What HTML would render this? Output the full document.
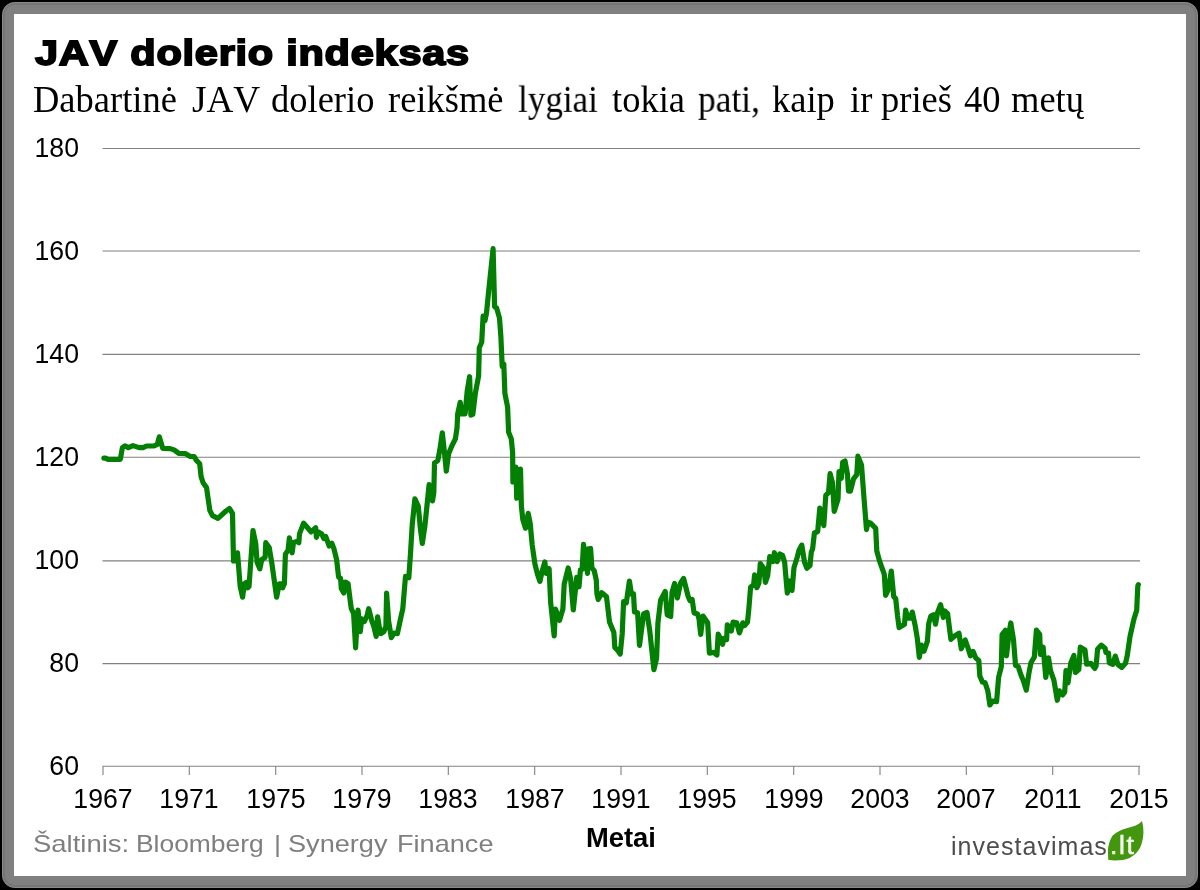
<!DOCTYPE html>
<html>
<head>
<meta charset="utf-8">
<title>JAV dolerio indeksas</title>
<style>
html,body{margin:0;padding:0;background:#000;}
body{width:1200px;height:890px;overflow:hidden;position:relative;font-family:"Liberation Sans",sans-serif;}
#frame{position:absolute;left:2px;top:2px;width:1196px;height:886px;background:#808080;border-radius:12.5px;box-sizing:border-box;border:1px solid #8c8c8c;box-shadow:inset 0 0 0 2px #767676;}
#card{position:absolute;left:14px;top:14px;width:1172px;height:862px;background:#fff;}
.t{position:absolute;white-space:nowrap;line-height:1;transform-origin:0 0;will-change:transform;}
#title{left:34.5px;top:34px;font-weight:bold;font-size:34px;color:#000;-webkit-text-stroke:1.7px #000;transform:scale(1.222,1.055);font-kerning:none;letter-spacing:0.6px;}
.w{top:81.4px;font-family:"Liberation Serif",serif;font-size:36.5px;color:#000;font-kerning:none;transform:scale(1,1.045);}
.yl{font-size:26.67px;color:#000;text-align:right;width:60px;left:19px;transform:scale(1,1.06);margin-top:-1.5px;}
.xl{font-size:26.67px;color:#000;text-align:center;width:100px;top:784.5px;transform:scale(1,1.06);}
.sw{top:831.7px;font-size:24px;color:#7f7f7f;transform:scale(1.13,1);font-kerning:none;}
#xt{left:586.3px;top:823.6px;font-size:26.67px;font-weight:bold;color:#000;transform:scale(1.025,1.065);}
#lg{left:950.5px;top:834px;font-size:25px;color:#4d4d4d;letter-spacing:1.03px;font-kerning:none;}
#lt{left:1110.4px;top:832.4px;font-size:26.5px;color:#f6fcee;z-index:3;letter-spacing:1.6px;font-kerning:none;-webkit-text-stroke:0.55px #f6fcee;}
svg{position:absolute;left:0;top:0;}
</style>
</head>
<body>
<div id="frame"></div>
<div id="card"></div>
<div class="t" id="title">JAV dolerio indeksas</div>
<div id="sub"><span class="t w" style="left:33px">Dabartinė</span><span class="t w" style="left:192.3px;transform:scale(1.02,1.045)">JAV</span><span class="t w" style="left:271.3px">dolerio</span><span class="t w" style="left:388px">reikšmė</span><span class="t w" style="left:518px;transform:scale(0.96,1.045)">lygiai</span><span class="t w" style="left:612.3px">tokia</span><span class="t w" style="left:698px;transform:scale(0.97,1.045)">pati,</span><span class="t w" style="left:771.7px">kaip</span><span class="t w" style="left:850px">ir</span><span class="t w" style="left:880.7px">prieš</span><span class="t w" style="left:964px">40</span><span class="t w" style="left:1011.3px">metų</span></div>

<div class="t yl" style="top:135px">180</div>
<div class="t yl" style="top:238px">160</div>
<div class="t yl" style="top:341px">140</div>
<div class="t yl" style="top:444px">120</div>
<div class="t yl" style="top:547px">100</div>
<div class="t yl" style="top:650px">80</div>
<div class="t yl" style="top:753px">60</div>

<div class="t xl" style="left:53px">1967</div>
<div class="t xl" style="left:139.3px">1971</div>
<div class="t xl" style="left:225.7px">1975</div>
<div class="t xl" style="left:312px">1979</div>
<div class="t xl" style="left:398.3px">1983</div>
<div class="t xl" style="left:484.7px">1987</div>
<div class="t xl" style="left:571px">1991</div>
<div class="t xl" style="left:657.3px">1995</div>
<div class="t xl" style="left:743.7px">1999</div>
<div class="t xl" style="left:830px">2003</div>
<div class="t xl" style="left:916.3px">2007</div>
<div class="t xl" style="left:1002.7px">2011</div>
<div class="t xl" style="left:1089px">2015</div>

<span class="t sw" style="left:32.7px;transform:scale(1.145,1)">Šaltinis:</span><span class="t sw" style="left:135.7px;transform:scale(1.1,1)">Bloomberg</span><span class="t sw" style="left:273.7px">|</span><span class="t sw" style="left:287.7px">Synergy</span><span class="t sw" style="left:396.5px">Finance</span>
<div class="t" id="xt">Metai</div>

<div class="t" id="lg">investavimas</div>
<div class="t" id="lt">.lt</div>
<svg width="1200" height="890" viewBox="0 0 1200 890">
  <g stroke="#828082" stroke-width="1.1" fill="none">
    <path d="M102.5 148.5H1140M102.5 251H1140M102.5 354.4H1140M102.5 457.2H1140M102.5 560.9H1140M102.5 663.6H1140M102.5 766.3H1140"/>
    <path d="M103 766.3V775M189.3 766.3V775M275.7 766.3V775M362 766.3V775M448.3 766.3V775M534.7 766.3V775M621 766.3V775M707.3 766.3V775M793.7 766.3V775M880 766.3V775M966.3 766.3V775M1052.7 766.3V775M1139 766.3V775"/>
  </g>
  <path fill="#44960e" d="M1108.2 859.8 L1107.9 849.7 C1108.2 846 1109.6 840.5 1112 836.5 C1114 834 1116.4 832.4 1123.3 829.3 L1132.7 826.5 C1136 825.5 1139.5 823.8 1141.9 820.9 C1143 824 1143.6 829 1143.4 833.4 C1143.2 838 1142 843.5 1140.3 847.2 C1138.5 851 1135 855 1129.6 857.9 C1126 859.6 1121 860.4 1113.9 860.4 Z"/>
  <polyline fill="none" stroke="#037f03" stroke-width="5.2" stroke-linejoin="round" stroke-linecap="round" points="103.9,458.1 105.4,458.1 108.1,459.4 120.3,459.4 122.4,447.6 124.9,445.9 128.3,447.6 133,445.6 139.1,447.6 143.1,447.6 146.5,446 153.9,446 157.3,444.3 159.3,436.8 162.7,448.3 170.1,448.6 174.1,449.9 178.8,453.4 185.6,453.7 190.3,456.4 194.3,456.7 196.4,460.4 199.7,463.8 201.1,476.6 203.1,482.7 206.5,487.4 209.8,510.3 212.5,515.7 217.9,518.4 226,511 229.4,508.5 232.5,513.3 233.5,560.9 235.5,560.9 237.5,552.8 240.2,586.5 242.6,597.2 244.3,583.8 246.3,582.4 247.6,587.8 249,586.5 253,530.5 255.7,543.3 257.1,562.2 259.8,568.9 261.8,559.5 265.1,557.5 265.8,542.7 269.2,547.4 271.9,563.6 276.6,597.2 279.3,583.8 281.3,583.8 282.7,587.8 284.4,583.8 285.4,554.1 288.1,550.1 289.4,537.9 292.1,552.8 293.5,542.7 296.8,541.3 298.8,542.7 299.5,533.9 303.6,523.1 307.6,527.8 311,531.9 315.7,527.8 316.4,537.3 318.4,531.9 321.8,533.9 323.8,538.6 325.8,536.6 329.2,546 331.9,543.3 333.9,548.7 336.6,559.5 338.6,577 340.6,578.4 341.3,588.5 343.8,593 345.2,582 348.1,583.8 350.2,600.6 351.3,608.7 353.6,613.5 355.6,647.8 357,623.6 358,610.1 360.3,631.6 361.7,618.8 364.4,621.5 367.1,615.5 368.7,608.7 371.8,620.9 373.8,626.3 376.2,636.4 377.6,616.8 379.2,626.3 380.9,633.7 383.9,631.6 385.9,626.3 386.6,593.2 388.6,620.9 391.3,637.7 394,633 397.4,633.7 400.1,620.9 402.8,608.7 405.5,576.4 408.8,577.7 410.5,553.5 412.2,525.1 414.9,498.8 418.3,506.3 420.3,527.8 422.3,543.5 425,525.1 429.1,484.7 432.5,500.9 433.8,492.8 434.5,463.1 437.8,460.4 439.9,449.6 442.3,432.8 444.6,453.7 446.3,471.2 448.6,453.7 452,445.6 455.4,438.9 457.0,428 457.7,413.8 460.2,402.3 461.8,413.8 465.1,413.8 467.2,390.9 469.6,376.7 470.9,415.1 472.8,414.4 475.3,393.6 478.6,376 479.3,347.7 481.7,342.3 483.1,316.1 485,320.5 486.5,312.9 488.5,292.7 493.1,248.7 494.6,306.8 496.6,307.9 499.5,318.1 500.9,337 502.2,366.6 503.8,363.9 504.9,393.6 507.6,407 508.6,432.1 511.3,438.9 512.6,452.3 512.9,482 516,467.2 516.7,498.2 520.5,469.2 521.4,506.3 522.8,519.4 525.5,528.2 528.2,513.4 530.2,523.5 532.2,545 534.9,563.9 537.6,574.7 539.9,581.4 542.3,570.6 544.8,561.9 546.1,573.3 549.1,568.6 550.6,602 554.2,635.9 555.5,609 559.5,620.4 562.9,609 564.2,584.1 568.2,568 570.6,578.7 573.3,609.9 576.7,577.4 579,586.8 580.4,570 582.1,569.3 583.5,544.4 587.5,573.3 587.9,549.1 590.6,548.4 591.9,568 594.2,570.6 596.3,580.1 596.9,593.6 598.2,599.5 601.8,592.8 606.5,596.8 609.5,622 613.9,632.6 614.8,647.4 617.5,650.1 620.2,654.1 622.2,633.9 623.6,601.6 626.3,602.9 629.4,581 631.4,594 633.5,593.8 634.5,612 637.6,612.7 639.5,645.4 643.6,614 647,612.5 649.8,631.2 653.9,669.6 656.6,658.2 657.9,623.1 660.6,600.2 665.2,591.5 667.2,614.8 670.7,616.5 672,592.5 674.6,583.5 677.4,598 680.6,583 683.6,578.5 688.2,596.5 689.9,600.5 692.2,599.5 694.1,613 697.6,614 699,618.7 700.7,634.5 703,616 707.7,622.8 709.4,653.1 713.8,652.4 716.9,655.1 718.2,634.2 720.5,638.9 722.6,644.3 723.9,638.3 726.6,639.6 727.3,624.8 729.3,627.5 731.3,630.9 733.1,622.1 736.7,622.8 739.4,632.9 742.8,622.8 744.8,625.5 747.5,622.1 748.8,609.3 750.6,587.1 753.6,585 754.6,574.9 756.9,587.7 758.9,583 760.3,563.5 763.7,568.2 765.4,582.3 767.7,575.6 769.7,556.7 773.1,561.5 774.4,552.7 777.1,561.5 779.8,554 782.5,555.4 784.6,562.1 787.3,593.1 789.3,581 792,590.4 794,567.5 797.4,556.7 798.9,550.5 801.8,545.1 804.5,562 806.8,568.2 810.0,565.5 811.3,552 812.6,549 814.4,533 817.7,531.6 819.8,508.1 821.8,515.5 823.8,525.6 825.8,495.3 828.5,492.6 830.1,473.7 832.6,483.1 834.2,511.4 838,499.3 839,471.7 841.3,478.4 842.7,462.2 845,460.9 847.4,473.7 848.5,491.2 850.4,491.2 853.5,479.1 856.8,474.4 857.9,456.2 861.5,464.9 864.2,500.6 866.5,529.6 867.9,522.2 870.3,522.9 875.7,528.3 876.8,551 879.5,560.9 884.3,574.4 885.6,595.3 887.6,591.2 889.4,583.1 891.3,571 893.7,596.6 895.7,598.6 897.5,615.5 899.1,627.6 904.5,624.2 905.6,610.1 907.8,618.2 910.5,618.2 912.3,612.1 915.3,626.3 917.3,638.4 919.3,657.3 921.3,645.1 924,651.2 927.4,641.1 928.7,623.6 930.8,616.1 933.5,614.8 935.5,624.2 937.5,612.8 940.6,604.7 943.3,617.5 944.9,611 947.6,613.7 950.9,639.3 955,635.7 959,633.3 961.3,648.8 965.2,640 967.7,647 970.4,655.8 973.1,651.5 975.8,658 978.8,660.5 979.8,676 982.5,682.1 985.1,682.8 987.8,690.9 989.9,705 992.6,701 996.6,701.6 998.6,677.4 1001.3,666.6 1002.1,634.6 1005.4,630.3 1006.5,655.8 1009.2,632 1010.8,623 1013.5,639.6 1015.5,665.3 1018.2,666.6 1020.9,674.7 1023.6,681.4 1026.3,690.2 1028.9,673.3 1031,662.6 1034.3,657.2 1036.4,630.2 1039.7,634.3 1040.4,654.5 1043.1,647.1 1045.8,677.4 1048.5,657.8 1050.5,670.6 1053.9,680.1 1057.3,700.3 1059.3,690.9 1062.6,694.9 1064.7,692.2 1066,670.5 1068,683 1070.8,663 1073.9,655.4 1075.4,672.5 1078.8,669.5 1080.3,647.1 1085,650 1086.6,664.2 1090.9,663.4 1094.8,668.4 1096.1,665.9 1097.6,649 1101.4,645.2 1105.1,648.2 1105.9,652.4 1108.5,653.1 1109.3,662.9 1112.7,664.4 1115.3,656.1 1117.9,664.4 1121.7,667.4 1125.5,663.3 1127.3,655.4 1130,636.6 1132.2,626.8 1134.1,618.5 1136.7,610.4 1137.8,586 1138.4,584.6"/>
</svg>
</body>
</html>
